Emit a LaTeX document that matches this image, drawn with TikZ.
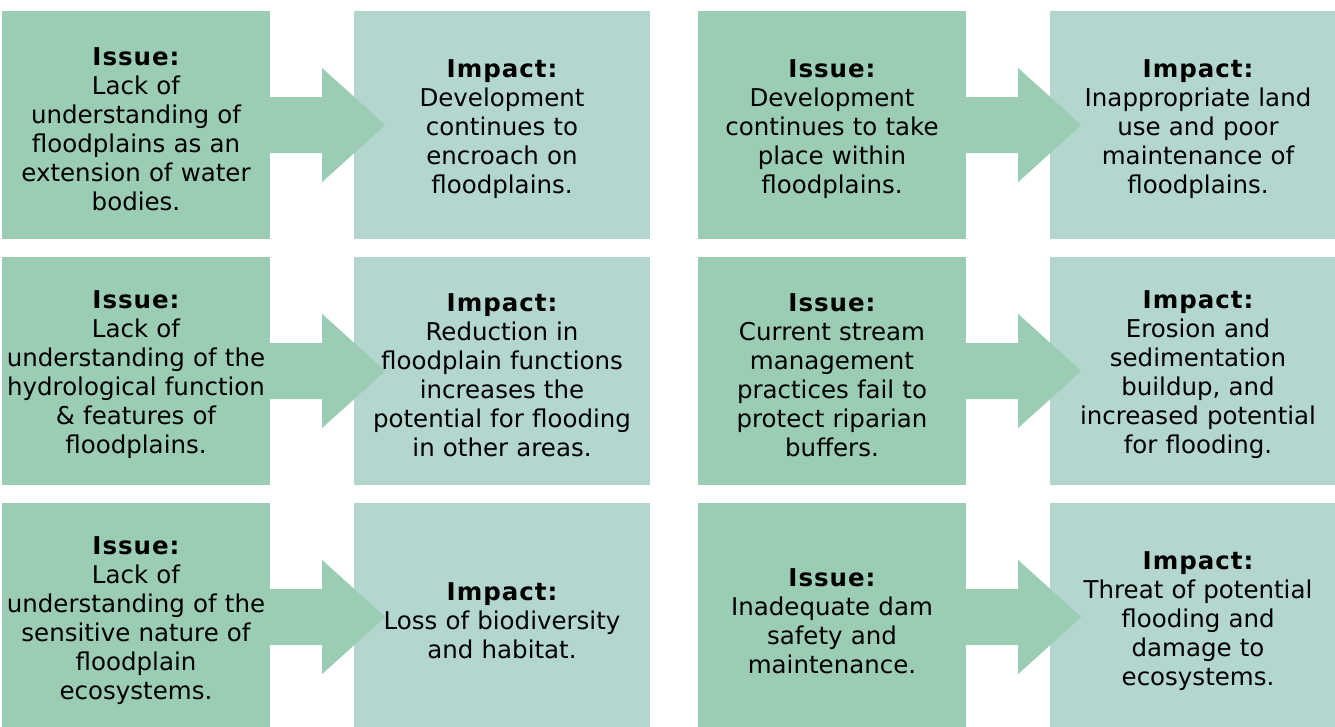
\documentclass[tikz,border=0pt]{standalone}
\usepackage{fontspec}
\setmainfont{DejaVu Sans}
\usetikzlibrary{calc}
\definecolor{issuecol}{RGB}{155,204,180}
\definecolor{impactcol}{RGB}{179,214,207}
\newcommand{\hd}[1]{{\bfseries\addfontfeature{LetterSpace=4}#1}}
\newcommand{\flowarrow}[1]{%
  \fill[issuecol] ($(#1.east)+(-1,-28)$) -- ($(#1.east)+(52,-28)$) -- ($(#1.east)+(52,-57)$)
    -- ($(#1.east)+(115,0)$) -- ($(#1.east)+(52,57)$) -- ($(#1.east)+(52,28)$)
    -- ($(#1.east)+(-1,28)$) -- cycle;}
\tikzset{
  box/.style={rectangle, inner sep=0pt, minimum height=228pt},
  issuebox/.style={box, fill=issuecol, minimum width=268pt},
  impactbox/.style={box, fill=impactcol, minimum width=296pt},
  txt/.style={inner sep=0pt, align=center, text width=290pt,
    font=\fontsize{24.5}{29}\selectfont, text=black},
}
\begin{document}
\begin{tikzpicture}[x=1pt,y=-1pt]
\useasboundingbox (0,0) rectangle (1335,726);
% boxes
\node[issuebox] (i1) at (136,125) {};
\node[impactbox] (m1) at (502,125) {};
\node[issuebox] (i2) at (832,125) {};
\node[impactbox] (m2) at (1198,125) {};
\node[issuebox] (i3) at (136,371) {};
\node[impactbox] (m3) at (502,371) {};
\node[issuebox] (i4) at (832,371) {};
\node[impactbox] (m4) at (1198,371) {};
\node[issuebox] (i5) at (136,617) {};
\node[impactbox] (m5) at (502,617) {};
\node[issuebox] (i6) at (832,617) {};
\node[impactbox] (m6) at (1198,617) {};
% arrows
\flowarrow{i1}
\flowarrow{i2}
\flowarrow{i3}
\flowarrow{i4}
\flowarrow{i5}
\flowarrow{i6}
% texts
\node[txt] (ti1) at ($(i1.center)+(0,4)$) {\hd{Issue:}\\Lack of\\understanding of\\floodplains as an\\extension of water\\bodies.};
\node[txt] (tm1) at ($(m1.center)+(0,4)$) {\hd{Impact:}\\Development\\continues to\\encroach on\\floodplains.};
\node[txt] (ti2) at ($(i2.center)+(0,4)$) {\hd{Issue:}\\Development\\continues to take\\place within\\floodplains.};
\node[txt] (tm2) at ($(m2.center)+(0,4)$) {\hd{Impact:}\\Inappropriate land\\use and poor\\maintenance of\\floodplains.};
\node[txt] (ti3) at ($(i3.center)+(0,4)$) {\hd{Issue:}\\Lack of\\understanding of the\\hydrological function\\\& features of\\floodplains.};
\node[txt] (tm3) at ($(m3.center)+(0,4)$) {\hd{Impact:}\\Reduction in\\floodplain functions\\increases the\\potential for flooding\\in other areas.};
\node[txt] (ti4) at ($(i4.center)+(0,4)$) {\hd{Issue:}\\Current stream\\management\\practices fail to\\protect riparian\\buffers.};
\node[txt] (tm4) at ($(m4.center)+(0,4)$) {\hd{Impact:}\\Erosion and\\sedimentation\\buildup, and\\increased potential\\for flooding.};
\node[txt] (ti5) at ($(i5.center)+(0,4)$) {\hd{Issue:}\\Lack of\\understanding of the\\sensitive nature of\\floodplain\\ecosystems.};
\node[txt] (tm5) at ($(m5.center)+(0,4)$) {\hd{Impact:}\\Loss of biodiversity\\and habitat.};
\node[txt] (ti6) at ($(i6.center)+(0,4)$) {\hd{Issue:}\\Inadequate dam\\safety and\\maintenance.};
\node[txt] (tm6) at ($(m6.center)+(0,4)$) {\hd{Impact:}\\Threat of potential\\flooding and\\damage to\\ecosystems.};
\end{tikzpicture}
\end{document}
